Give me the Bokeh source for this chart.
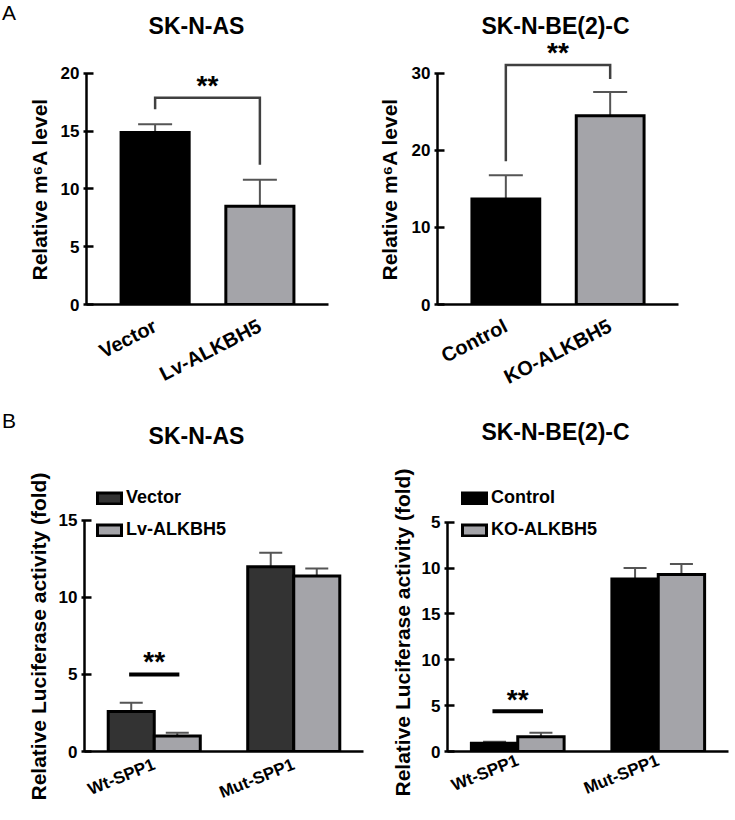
import math
from bokeh.plotting import figure
from bokeh.models import (FactorRange, Range1d, FixedTicker, Whisker, TeeHead,
                          ColumnDataSource, Label, Title, Div)
from bokeh.transform import dodge
from bokeh.layouts import row, column
from bokeh.embed import file_html
from bokeh.resources import INLINE

FONT = "Liberation Sans"
LIGHT = "#a4a4a9"
DARK = "#333333"
ERR = "#555555"

# ---------------- data ----------------
a1_title = "SK-N-AS"
a1_cats = ["Vector", "Lv-ALKBH5"]
a1_vals = [14.9, 8.5]
a1_upper = [15.6, 10.8]
a1_colors = ["#000000", LIGHT]
a1_ticks = [0, 5, 10, 15, 20]
a1_bracket = [16.9, 17.9, 12.1]      # left leg end, bracket top, right leg end
a1_star_y = 19.0

a2_title = "SK-N-BE(2)-C"
a2_cats = ["Control", "KO-ALKBH5"]
a2_vals = [13.7, 24.5]
a2_upper = [16.8, 27.6]
a2_colors = ["#000000", LIGHT]
a2_ticks = [0, 10, 20, 30]
a2_bracket = [18.6, 31.1, 29.3]
a2_star_y = 32.7

b_groups = ["Wt-SPP1", "Mut-SPP1"]

b1_title = "SK-N-AS"
b1_series = ["Vector", "Lv-ALKBH5"]
b1_vals_1 = [2.6, 12.0]
b1_upper_1 = [3.16, 12.9]
b1_vals_2 = [1.0, 11.4]
b1_upper_2 = [1.21, 11.88]
b1_colors = [DARK, LIGHT]
b1_ticks = [0, 5, 10, 15]
b1_sig_y = 5.0
b1_star_y = 5.84

b2_title = "SK-N-BE(2)-C"
b2_series = ["Control", "KO-ALKBH5"]
b2_vals_1 = [0.9, 18.8]
b2_upper_1 = [1.05, 20.0]
b2_vals_2 = [1.6, 19.3]
b2_upper_2 = [2.05, 20.44]
b2_colors = ["#000000", LIGHT]
b2_ticks = [0, 5, 10, 15, 20, 25]
b2_tick_labels = ["0", "5", "10", "15", "10", "5"]
b2_sig_y = 4.4
b2_star_y = 5.71

ylab_a = "Relative m\u2076A level"
ylab_b = "Relative Luciferase activity (fold)"


def make_fig(x_range, y_end, w, h, bl, br, bt, bb):
    p = figure(x_range=x_range, y_range=Range1d(0, y_end), width=w, height=h,
               min_border_left=bl, min_border_right=br, min_border_top=bt,
               min_border_bottom=bb, output_backend="svg", toolbar_location=None,
               tools="")
    p.outline_line_color = None
    p.xgrid.visible = False
    p.ygrid.visible = False
    p.background_fill_color = "white"
    p.border_fill_color = "white"
    return p


def style_axes(p, ticks, ylabel, ylab_offset, ylab_standoff, xfont, xangle,
               xstandoff, overrides=None):
    xa = p.xaxis[0]
    xa.axis_line_width = 2.5
    xa.axis_line_color = "black"
    xa.major_tick_line_color = None
    xa.major_tick_in = 0
    xa.major_tick_out = 0
    xa.minor_tick_line_color = None
    xa.major_label_orientation = math.radians(xangle)
    xa.major_label_text_font = FONT
    xa.major_label_text_font_style = "bold"
    xa.major_label_text_font_size = xfont
    xa.major_label_text_color = "black"
    xa.major_label_standoff = xstandoff

    ya = p.yaxis[0]
    ya.ticker = FixedTicker(ticks=ticks)
    ya.bounds = (0, ticks[-1])
    ya.axis_line_width = 2.5
    ya.axis_line_color = "black"
    ya.major_tick_line_width = 2.5
    ya.major_tick_line_color = "black"
    ya.major_tick_in = 7
    ya.major_tick_out = 3
    ya.minor_tick_line_color = None
    ya.major_label_standoff = 4
    ya.major_label_text_font = FONT
    ya.major_label_text_font_style = "bold"
    ya.major_label_text_font_size = "17px"
    ya.major_label_text_color = "black"
    if overrides:
        ya.major_label_overrides = overrides
    # y-axis title beside the axis (starts ylab_offset px above the frame bottom)
    p.add_layout(Title(text=ylabel, align="left", offset=ylab_offset,
                       standoff=ylab_standoff, text_font=FONT,
                       text_font_style="bold", text_font_size="21px",
                       text_color="black"), "left")


def add_text(p, text, x, y, size, style="bold", units="screen"):
    p.add_layout(Label(x=x, y=y, x_units=units, y_units=units, text=text,
                       text_font=FONT, text_font_style=style, text_font_size=size,
                       text_color="black", text_align="center",
                       text_baseline="middle"))


def panel_a(title, cats, vals, upper, colors, ticks, bracket, star_y,
            y_end, w, bl, br, ylab_standoff, title_xy):
    p = make_fig(FactorRange(factors=cats, range_padding=0.155), y_end,
                 w, 410, bl, br, 0, 106)
    src = ColumnDataSource(dict(x=cats, v=vals, u=upper, c=colors))
    p.add_layout(Whisker(source=src, base="x", lower="v", upper="u",
                         dimension="height", line_color=ERR, line_width=2,
                         lower_head=None,
                         upper_head=TeeHead(size=34, line_color=ERR, line_width=2)))
    p.vbar(x="x", top="v", width=0.65, source=src, fill_color="c",
           line_color="black", line_width=3, line_join="miter")
    # significance bracket
    p.line(x=[cats[0], cats[0], cats[1], cats[1]],
           y=[bracket[0], bracket[1], bracket[1], bracket[2]],
           line_color="#404040", line_width=2.5, line_join="miter")
    mid = (cats.index(cats[0]) + cats.index(cats[1])) / 2 + 0.5
    add_text(p, "**", mid, star_y, "28px", units="data")
    style_axes(p, ticks, ylab_a, 24, ylab_standoff, "20px", 27, 20)
    add_text(p, title, title_xy[0], title_xy[1], "23px")
    return p


def panel_b(title, series, v1, u1, v2, u2, colors, ticks, sig_y, star_y,
            y_end, w, bl, br, bb, xstandoff, ylab_offset, ylab_standoff,
            title_xy, legend_xy, overrides=None):
    p = make_fig(FactorRange(factors=b_groups, range_padding=0), y_end,
                 w, 410, bl, br, 0, bb)
    offs = [-0.165, 0.165]
    for name, vals, upper, col, off in zip(series, [v1, v2], [u1, u2], colors, offs):
        src = ColumnDataSource(dict(g=b_groups, v=vals, u=upper))
        p.add_layout(Whisker(source=src, base=dodge("g", off, range=p.x_range),
                             lower="v", upper="u", dimension="height",
                             line_color=ERR, line_width=2, lower_head=None,
                             upper_head=TeeHead(size=23, line_color=ERR,
                                                line_width=2)))
        p.vbar(x=dodge("g", off, range=p.x_range), top="v", width=0.33,
               source=src, fill_color=col, line_color="black", line_width=3,
               line_join="miter", legend_label=name)
    g = b_groups[0]
    p.line(x=[(g, -0.18), (g, 0.18)], y=[sig_y, sig_y], line_color="black",
           line_width=4)
    add_text(p, "**", b_groups.index(g) + 0.5, star_y, "28px", units="data")
    style_axes(p, ticks, ylab_b, ylab_offset, ylab_standoff, "17px", 22,
               xstandoff, overrides)
    add_text(p, title, title_xy[0], title_xy[1], "23px")
    leg = p.legend[0]
    leg.location = legend_xy
    leg.glyph_width = 30
    leg.glyph_height = 14
    leg.label_standoff = 2
    leg.spacing = 11
    leg.padding = 0
    leg.margin = 0
    leg.label_height = 20
    leg.border_line_color = None
    leg.background_fill_alpha = 0
    leg.label_text_font = FONT
    leg.label_text_font_style = "bold"
    leg.label_text_font_size = "18px"
    leg.label_text_color = "black"
    return p


pa1 = panel_a(a1_title, a1_cats, a1_vals, a1_upper, a1_colors, a1_ticks,
              a1_bracket, a1_star_y, 26.32, 349, 67, 39, 14, (110, 279))
pa2 = panel_a(a2_title, a2_cats, a2_vals, a2_upper, a2_colors, a2_ticks,
              a2_bracket, a2_star_y, 39.48, 368, 70, 57, 16, (118, 279))
pb1 = panel_b(b1_title, b1_series, b1_vals_1, b1_upper_1, b1_vals_2, b1_upper_2,
              b1_colors, b1_ticks, b1_sig_y, b1_star_y, 22.14, 349, 65, 4, 69,
              12, -49, 12, (112, 316), (10, 211))
pb2 = panel_b(b2_title, b2_series, b2_vals_1, b2_upper_1, b2_vals_2, b2_upper_2,
              b2_colors, b2_ticks, b2_sig_y, b2_star_y, 37.18, 368, 80, 7, 65,
              8, -45, 10, (108, 320), (12, 211),
              overrides={t: s for t, s in zip(b2_ticks, b2_tick_labels)})

LETTER = ('<div style="font-family:\'Liberation Sans\';font-size:21px;'
          'line-height:21px;color:black;padding:{pt}px 0 0 2px;">{t}</div>')
div_a = Div(text=LETTER.format(pt=2, t="A"), width=18, height=410, margin=0)
div_b = Div(text=LETTER.format(pt=0, t="B"), width=18, height=410, margin=0)

layout = row(column(div_a, div_b), column(row(pa1, pa2), row(pb1, pb2)))

open("out.html", "w").write(file_html(layout, INLINE))
